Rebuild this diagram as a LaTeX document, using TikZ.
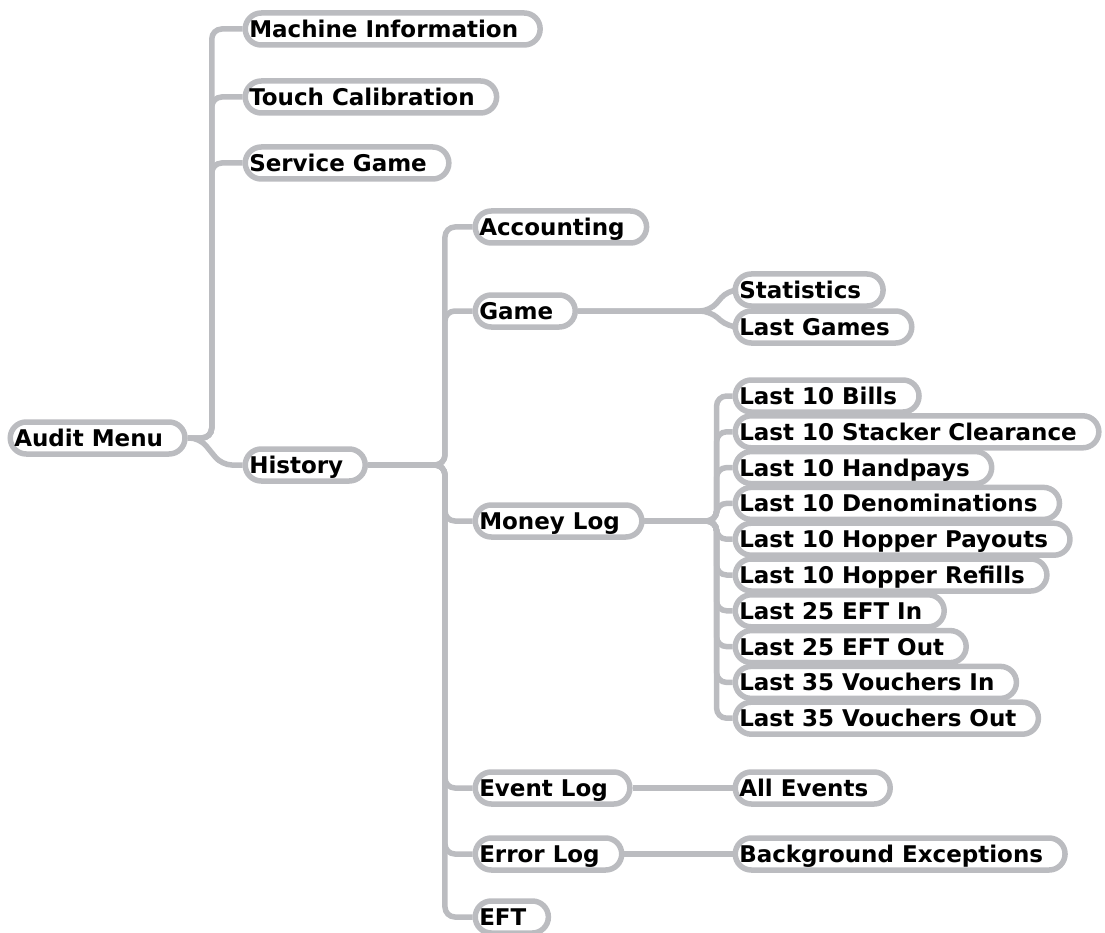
\documentclass[tikz,border=0pt]{standalone}
\usepackage{fontspec}
\setmainfont{DejaVu Sans}
\usetikzlibrary{calc}
\definecolor{linkgray}{RGB}{187,188,192}

\begin{document}
\begin{tikzpicture}[x=1pt, y=-1pt,
	every node/.style={font=\fontsize{23}{26}\selectfont\bfseries},
	item/.style={draw=linkgray, line width=5.5pt, rounded corners=16pt, anchor=west,
		minimum height=32pt, inner ysep=0pt, inner xsep=4pt,
		text height=16.8pt, text depth=0pt, execute at end node={\hspace{18pt}}},
	link/.style={draw=linkgray, line width=5.5pt, rounded corners=10pt}]
	\useasboundingbox (0,0) rectangle (1105,933);
	% first level
	\node[item] (audit) at (7.5,438) {Audit Menu};
	\node[item] (mach) at (242.5,29) {Machine Information};
	\node[item] (touch) at (242.5,97) {Touch Calibration};
	\node[item] (serv) at (242.5,163) {Service Game};
	\node[item] (hist) at (242.5,465) {History};
	\draw[link] (audit.east) -- ++(24,0) |- (mach.west);
	\draw[link] (audit.east) -- ++(24,0) |- (touch.west);
	\draw[link] (audit.east) -- ++(24,0) |- (serv.west);
	\draw[link] (audit.east) -- ++(12,0) -- ++(22,27) -- (hist.west);
	% history
	\node[item] (acc) at (472.5,227) {Accounting};
	\node[item] (game) at (472.5,311) {Game};
	\node[item] (money) at (472.5,521) {Money Log};
	\node[item] (event) at (472.5,788) {Event Log};
	\node[item] (error) at (472.5,854) {Error Log};
	\node[item] (eft) at (472.5,917) {EFT};
	\foreach \n in {acc,game,money,event,error,eft}
		\draw[link] (hist.east) -- ++(77,0) |- (\n.west);
	% game
	\node[item] (stat) at (732.5,290) {Statistics};
	\node[item] (last) at (732.5,327) {Last Games};
	\draw[link] (game.east) -- ++(132,0) -- ++(18,-21) -- (stat.west);
	\draw[link] (game.east) -- ++(132,0) -- ++(18,16) -- (last.west);
	% money log
	\foreach \txt [count=\i] in {Last 10 Bills, Last 10 Stacker Clearance, Last 10 Handpays,
		Last 10 Denominations, Last 10 Hopper Payouts, Last 10 Hopper Refills, Last 25 EFT In,
		Last 25 EFT Out, Last 35 Vouchers In, Last 35 Vouchers Out}
	{
		\node[item] (ml\i) at (732.5,{396+35.8*(\i-1)}) {\txt};
		\draw[link] (money.east) -- ++(72,0) |- (ml\i.west);
	}
	% logs
	\node[item] (all) at (732.5,788) {All Events};
	\node[item] (bgex) at (732.5,854) {Background Exceptions};
	\draw[link] (event.east) -- (all.west);
	\draw[link] (error.east) -- (bgex.west);
\end{tikzpicture}
\end{document}
